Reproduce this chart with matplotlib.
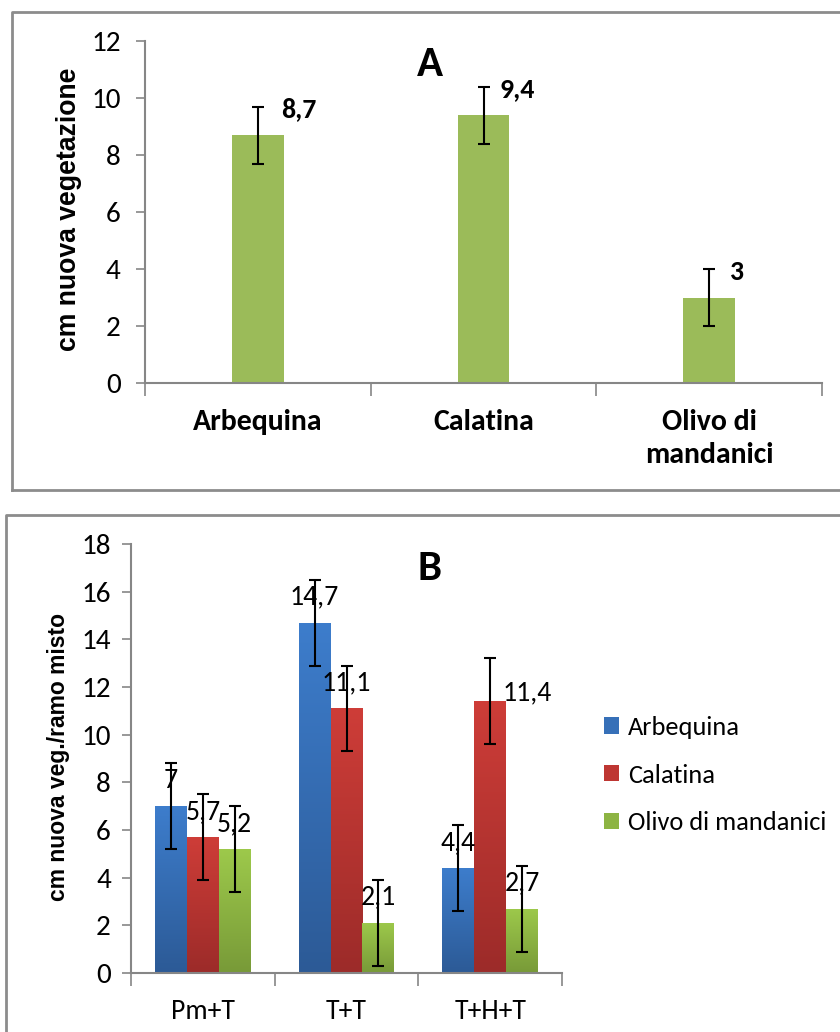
import numpy as np
import matplotlib
matplotlib.use("Agg")
import matplotlib.pyplot as plt
from matplotlib.colors import LinearSegmentedColormap
from matplotlib.lines import Line2D
from matplotlib.patches import Patch

# ---------------- data ----------------
cultivars = ["Arbequina", "Calatina", "Olivo di\nmandanici"]
growth_a = [8.7, 9.4, 3.0]
err_a = [1.0, 1.0, 1.0]
labels_a = ["8,7", "9,4", "3"]

treatments = ["Pm+T", "T+T", "T+H+T"]
series_b = ["Arbequina", "Calatina", "Olivo di mandanici"]
arbequina_b = [7.0, 14.7, 4.4]
calatina_b = [5.7, 11.1, 11.4]
olivo_b = [5.2, 2.1, 2.7]
err_b = [1.8, 1.8, 1.8]
yticks_a = [0, 2, 4, 6, 8, 10, 12]
yticks_b = [0, 2, 4, 6, 8, 10, 12, 14, 16, 18]

W, H = 840, 1032
FONT = ["Carlito", "Lato", "DejaVu Sans"]
plt.rcParams["font.family"] = FONT

fig = plt.figure(figsize=(W / 100, H / 100), dpi=100)
fig.patch.set_facecolor("white")


def fx(x):
    return x / W


def fy(y):
    return 1 - y / H


GREY = "#868686"

# panel borders
fig.add_artist(Line2D([fx(12), fx(12), 1.0], [fy(490), fy(12), fy(12)], color="#8c8c8c", lw=2))
fig.add_artist(Line2D([fx(12), 1.0], [fy(490), fy(490)], color="#8c8c8c", lw=2))
fig.add_artist(Line2D([fx(6), fx(6), 1.0], [0.0, fy(515), fy(515)], color="#8c8c8c", lw=2))


def style_axes(ax, ylim, yticks, xlabels, bold, xlabsize, ypad, xpad, lsp):
    ax.set_xlim(-0.5, 2.5)
    ax.set_ylim(*ylim)
    for s in ["top", "right"]:
        ax.spines[s].set_visible(False)
    for s in ["left", "bottom"]:
        ax.spines[s].set_color(GREY)
        ax.spines[s].set_linewidth(1.5)
    ax.set_yticks(yticks)
    ax.tick_params(axis="y", direction="out", length=6.5, width=1.2, color=GREY,
                   labelsize=21, pad=ypad, labelcolor="black")
    ax.set_xticks([-0.5, 0.5, 1.5, 2.5])
    ax.set_xticklabels([])
    ax.tick_params(axis="x", which="major", direction="out", length=9.5, width=1.2, color=GREY)
    ax.set_xticks([0, 1, 2], minor=True)
    ax.set_xticklabels(xlabels, minor=True, fontsize=xlabsize,
                       fontweight="bold" if bold else "normal", linespacing=lsp)
    ax.tick_params(axis="x", which="minor", length=0, pad=xpad)


# ---------------- panel A ----------------
axA = fig.add_axes([fx(145), fy(383), fx(822) - fx(145), fy(41) - fy(383)])
xa = np.arange(len(cultivars))
axA.bar(xa, growth_a, width=0.23, color="#9BBB59", zorder=2)
axA.errorbar(xa, growth_a, yerr=err_a, fmt="none", ecolor="black", elinewidth=1.5,
             capsize=4.5, capthick=1.5, zorder=3)
a_dx = [16.5, 11.5, 15]
for xi, v, e, lab, dx in zip(xa, growth_a, err_a, labels_a, a_dx):
    axA.annotate(lab, (xi, v + e), xytext=(dx, -2), textcoords="offset points",
                 ha="left", va="center", fontsize=20, fontweight="bold")
style_axes(axA, (0, 12), yticks_a, cultivars, True, 21.5, 11, 19, 1.3)
fig.text(fx(430), fy(65), "A", ha="center", va="center", fontsize=31, fontweight="bold")
fig.text(fx(69), fy(209), "cm nuova vegetazione", rotation=90, ha="center", va="center",
         fontsize=19.2, fontweight="bold", family=["Liberation Sans", "DejaVu Sans"])

# ---------------- panel B ----------------
axB = fig.add_axes([fx(131), fy(973), fx(562) - fx(131), fy(544) - fy(973)])
xb = np.arange(len(treatments))
bw = 0.222
colors_top = ["#3D7DCC", "#CE3D38", "#9DC94B"]
colors_bot = ["#2C5A96", "#9C2B29", "#789A38"]
colors_mid = ["#3670B8", "#BE3632", "#8DB443"]
all_b = [arbequina_b, calatina_b, olivo_b]
for i, vals in enumerate(all_b):
    xs = xb + (i - 1) * bw
    bars = axB.bar(xs, vals, width=bw, color=colors_mid[i], zorder=2, label=series_b[i])
    cmap = LinearSegmentedColormap.from_list("g%d" % i, [colors_bot[i], colors_top[i]])
    grad = np.linspace(0, 1, 256).reshape(-1, 1)
    for b in bars:
        x0 = b.get_x()
        h = b.get_height()
        im = axB.imshow(grad, extent=[x0, x0 + b.get_width(), 0, h], origin="lower",
                        aspect="auto", cmap=cmap, zorder=2.1, interpolation="bilinear")
        im.set_clip_path(b)
    axB.errorbar(xs, vals, yerr=err_b, fmt="none", ecolor="black", elinewidth=1.5,
                 capsize=4.5, capthick=1.5, zorder=3)
    for j, (xi, v) in enumerate(zip(xs, vals)):
        lab = ("%g" % v).replace(".", ",")
        off = (27, 6) if (i == 1 and j == 2) else (0, 18.5)
        axB.annotate(lab, (xi, v), xytext=off, textcoords="offset points",
                     ha="center", va="center", fontsize=20, zorder=4)
style_axes(axB, (0, 18), yticks_b, treatments, False, 20, 8, 18.5, 1.2)
axB.set_aspect("auto")
fig.text(fx(430), fy(568), "B", ha="center", va="center", fontsize=31, fontweight="bold")
fig.text(fx(58), fy(757), "cm nuova veg./ramo misto", rotation=90, ha="center", va="center",
         fontsize=16.5, fontweight="bold", family=["Liberation Sans", "DejaVu Sans"])

handles = [Patch(facecolor=c, edgecolor="none") for c in colors_mid]
fig.legend(handles, series_b, loc="upper left", bbox_to_anchor=(fx(604), fy(716)),
           frameon=False, fontsize=19, handlelength=0.58, handleheight=0.58,
           handletextpad=0.32, labelspacing=0.93, borderpad=0, borderaxespad=0)

fig.savefig("out.png", dpi=100, facecolor="white")
